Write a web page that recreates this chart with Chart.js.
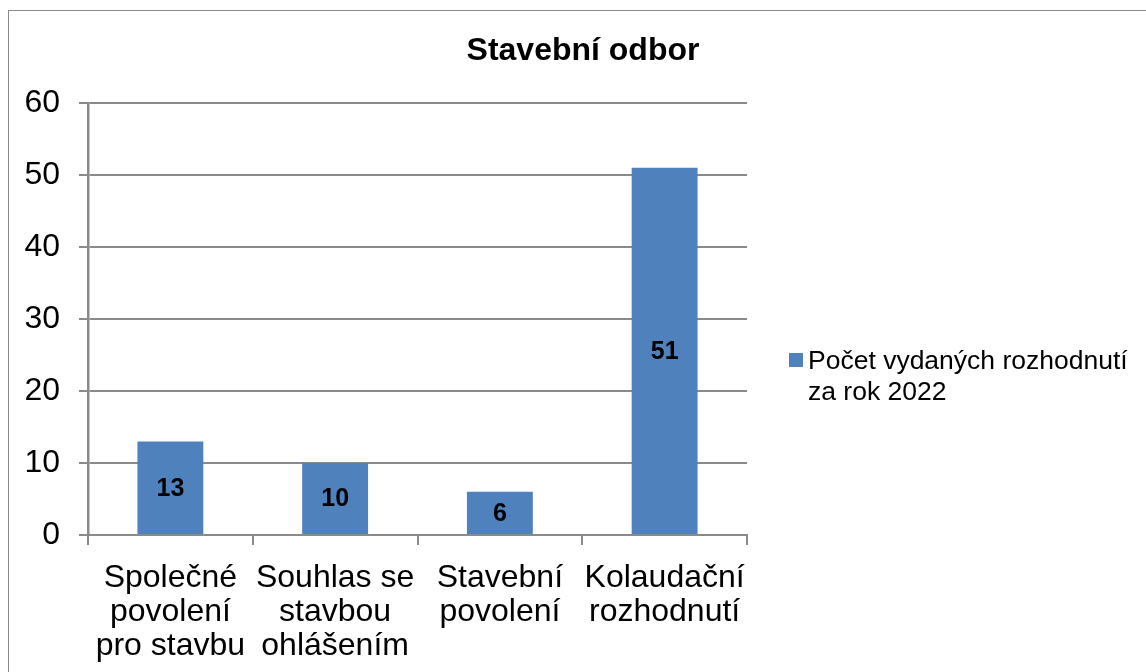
<!DOCTYPE html>
<html>
<head>
    <meta charset="utf-8">
    <title>Stavební odbor</title>
    <script src="https://cdn.jsdelivr.net/npm/chart.js"></script>
    <style>
        body { margin: 0; background: #fff; }
        #wrap { position: relative; width: 1146px; height: 672px; overflow: hidden; }
        #frame { position: absolute; left: 8px; top: 10px; width: 1200px; height: 700px; border: 1.5px solid #8a8a8a; }
        canvas { position: absolute; left: 0; top: 0; }
    </style>
</head>
<body>
<div id="wrap">
    <div id="frame"></div>
    <canvas id="chart" width="1146" height="672"></canvas>
</div>
<script>
    let chartTitle = "Stavební odbor";
    let categories = [
        ["Společné", "povolení", "pro stavbu"],
        ["Souhlas se", "stavbou", "ohlášením"],
        ["Stavební", "povolení"],
        ["Kolaudační", "rozhodnutí"]
    ];
    let seriesName = ["Počet vydaných rozhodnutí", "za rok 2022"];
    let values = [13, 10, 6, 51];
    let yTicks = [0, 10, 20, 30, 40, 50, 60];

    let fontFamily = "'Liberation Sans', Arial, sans-serif";
    let gridColor = "#8a8a8a";
    let barColor = "#4f81bd";

    // title, legend and value labels
    let extrasPlugin = {
        id: "extras",
        afterDatasetsDraw(chart) {
            let ctx = chart.ctx;
            let meta = chart.getDatasetMeta(0);
            ctx.save();
            ctx.fillStyle = "#000";
            ctx.font = "bold 25px " + fontFamily;
            ctx.textAlign = "center";
            ctx.textBaseline = "middle";
            meta.data.forEach(function (bar, i) {
                let mid = (bar.y + bar.base) / 2;
                ctx.fillText(String(values[i]), bar.x, mid + 1);
            });
            ctx.restore();
        },
        afterDraw(chart) {
            let ctx = chart.ctx;
            let area = chart.chartArea;
            ctx.save();
            ctx.fillStyle = "#000";
            ctx.font = "bold 32px " + fontFamily;
            ctx.textAlign = "center";
            ctx.textBaseline = "alphabetic";
            ctx.fillText(chartTitle, 583, 60);

            let lx = area.right + 42;
            ctx.fillStyle = barColor;
            ctx.fillRect(lx, 353, 14, 14);
            ctx.fillStyle = "#000";
            ctx.font = "26.5px " + fontFamily;
            ctx.textAlign = "left";
            seriesName.forEach(function (line, i) {
                ctx.fillText(line, lx + 19, 369 + i * 31);
            });
            ctx.restore();
        }
    };

    let ctx = document.getElementById("chart").getContext("2d");
    new Chart(ctx, {
        type: "bar",
        data: {
            labels: categories,
            datasets: [{
                label: seriesName.join(" "),
                data: values,
                backgroundColor: barColor,
                barPercentage: 0.4,
                categoryPercentage: 1.0
            }]
        },
        options: {
            responsive: false,
            animation: false,
            layout: {
                padding: { left: 0, right: 399, top: 103, bottom: 0 }
            },
            plugins: {
                legend: { display: false },
                title: { display: false },
                tooltip: { enabled: false }
            },
            scales: {
                x: {
                    offset: true,
                    afterFit(axis) { axis.height = 137; },
                    grid: {
                        offset: true,
                        drawOnChartArea: false,
                        drawTicks: true,
                        tickLength: 10,
                        color: gridColor,
                        lineWidth: 2
                    },
                    border: { color: gridColor, width: 2 },
                    ticks: {
                        color: "#000",
                        padding: 16,
                        autoSkip: false,
                        maxRotation: 0,
                        font: { family: fontFamily, size: 32, lineHeight: 1.06 }
                    }
                },
                y: {
                    min: 0,
                    max: 60,
                    afterFit(axis) { axis.width = 88; },
                    afterBuildTicks(axis) {
                        axis.ticks = yTicks.map(function (v) { return { value: v }; });
                    },
                    grid: {
                        color: gridColor,
                        lineWidth: 2,
                        tickLength: 9
                    },
                    border: { color: gridColor, width: 2.5 },
                    ticks: {
                        color: "#000",
                        padding: 19,
                        font: { family: fontFamily, size: 32 }
                    }
                }
            }
        },
        plugins: [extrasPlugin]
    });
</script>
</body>
</html>
